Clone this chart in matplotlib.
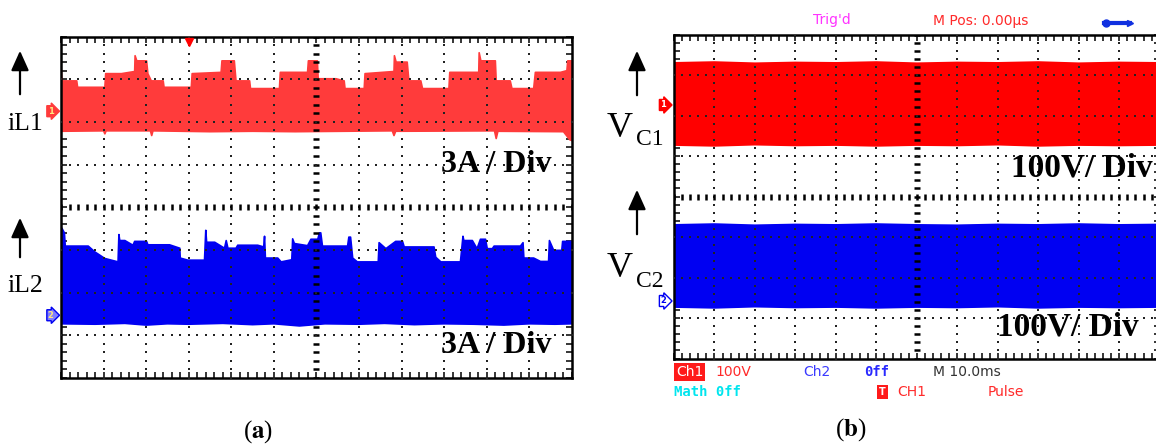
import numpy as np
import matplotlib
matplotlib.use("Agg")
import matplotlib.pyplot as plt
from matplotlib.patches import FancyArrowPatch
from matplotlib.lines import Line2D
from matplotlib.ticker import MultipleLocator
import matplotlib.transforms as mtrans

plt.rcParams['mathtext.fontset'] = 'stix'

W, H = 1156, 445

# ---- (a) inductor currents, screen divisions (12 x 8) ----
iL1_top_t = [0.00, 0.02, 0.37, 0.39, 1.03, 1.05, 1.42, 1.73, 1.74, 1.78, 2.01, 2.04, 2.12, 2.40,
             2.42, 3.06, 3.08, 3.76, 3.78, 4.07, 4.11, 4.43, 4.45, 5.13, 5.15, 5.79, 5.81, 6.02,
             6.04, 6.46, 6.65, 6.67, 7.12, 7.14, 7.82, 7.83, 7.87, 8.13, 8.17, 8.45, 8.49, 9.11,
             9.13, 9.81, 9.82, 9.86, 10.20, 10.22, 10.55, 10.59, 11.10, 11.14, 11.73, 11.88, 11.90, 12.00]
iL1_top_v = [7.31, 6.96, 6.96, 6.81, 6.81, 7.13, 7.13, 7.18, 7.55, 7.43, 7.43, 7.13, 6.96, 6.96,
             6.81, 6.81, 7.13, 7.16, 7.43, 7.43, 6.96, 6.96, 6.78, 6.78, 7.16, 7.16, 7.43, 7.43,
             7.01, 7.01, 6.96, 6.78, 6.78, 7.13, 7.18, 7.55, 7.40, 7.40, 6.96, 6.96, 6.78, 6.78,
             7.16, 7.16, 7.62, 7.43, 7.43, 6.96, 6.96, 6.78, 6.78, 7.16, 7.16, 7.20, 7.43, 7.43]
iL1_bot_t = [0.0, 1.0, 1.03, 1.06, 2.10, 2.13, 2.16, 3.5, 4.5, 5.5, 7.78, 7.82, 7.86,
             10.18, 10.22, 10.26, 11.8, 11.95, 12.0]
iL1_bot_v = [5.78, 5.79, 5.72, 5.79, 5.79, 5.68, 5.79, 5.77, 5.78, 5.77, 5.79, 5.68, 5.78,
             5.79, 5.61, 5.78, 5.77, 5.58, 5.56]

iL2_top_t = [0.00, 0.02, 0.08, 0.10, 0.64, 0.80, 1.03, 1.34, 1.36, 1.38, 1.50, 1.69, 1.73, 2.01,
             2.04, 2.55, 2.79, 2.80, 2.98, 3.37, 3.40, 3.42, 3.61, 3.84, 3.88, 3.92, 4.11, 4.15,
             4.62, 4.76, 4.78, 4.80, 5.09, 5.17, 5.42, 5.44, 5.48, 5.79, 5.87, 6.03, 6.07, 6.10,
             6.14, 6.73, 6.76, 6.80, 6.85, 6.96, 7.45, 7.47, 7.63, 7.86, 8.02, 8.06, 8.76, 8.80,
             8.92, 9.38, 9.44, 9.46, 9.66, 9.77, 9.85, 9.97, 10.01, 10.13, 10.17, 10.79, 10.85,
             10.87, 11.10, 11.26, 11.45, 11.47, 11.57, 11.76, 11.78, 12.00]
iL2_top_v = [3.30, 3.51, 3.40, 3.09, 3.09, 2.95, 2.80, 2.72, 3.36, 3.22, 3.22, 3.11, 3.20, 3.20,
             3.12, 3.12, 3.04, 2.81, 2.76, 2.76, 3.46, 3.18, 3.18, 3.04, 3.22, 3.04, 3.04, 3.11,
             3.11, 3.07, 3.32, 2.81, 2.81, 2.72, 2.77, 3.26, 3.15, 3.10, 3.25, 3.25, 3.40, 3.40,
             3.09, 3.09, 3.30, 3.30, 2.81, 2.72, 2.72, 3.17, 3.03, 3.20, 3.20, 3.07, 3.07, 2.83,
             2.72, 2.72, 3.32, 3.22, 3.22, 3.03, 3.25, 3.25, 3.03, 3.03, 3.09, 3.09, 3.17,
             2.81, 2.81, 2.73, 2.73, 3.22, 2.99, 2.99, 3.20, 3.20]
iL2_bot_t = [0.0, 0.8, 1.5, 2.0, 2.5, 3.0, 3.8, 4.5, 5.0, 5.6, 6.2, 7.0, 7.6, 8.3, 9.0, 9.7,
             10.4, 11.0, 11.6, 12.0]
iL2_bot_v = [1.27, 1.26, 1.28, 1.24, 1.27, 1.26, 1.28, 1.25, 1.27, 1.22, 1.27, 1.26, 1.28,
             1.25, 1.27, 1.26, 1.24, 1.27, 1.26, 1.27]

# ---- (b) capacitor voltages ----
vc_t = [0, 1, 2, 3, 4, 5, 6, 7, 8, 9, 10, 11, 12]
vc1_top = [7.30, 7.32, 7.29, 7.31, 7.30, 7.32, 7.29, 7.31, 7.30, 7.32, 7.29, 7.31, 7.30]
vc1_bot = [5.27, 5.25, 5.28, 5.26, 5.27, 5.25, 5.27, 5.26, 5.28, 5.25, 5.27, 5.26, 5.27]
vc2_top = [3.30, 3.32, 3.29, 3.31, 3.30, 3.32, 3.30, 3.29, 3.31, 3.30, 3.32, 3.30, 3.31]
vc2_bot = [1.27, 1.25, 1.28, 1.26, 1.27, 1.25, 1.27, 1.26, 1.28, 1.25, 1.27, 1.26, 1.27]

red_a = '#ff3b3b'
red_b = '#ff0000'
blue = '#0000f2'


def fx(x):
    return x / W


def fy(y):
    return 1 - y / H


def screen(ax):
    ax.set_xlim(0, 12)
    ax.set_ylim(0, 8)
    for s in ax.spines.values():
        s.set_linewidth(1.8)
    ax.xaxis.set_major_locator(MultipleLocator(1))
    ax.yaxis.set_major_locator(MultipleLocator(1))
    ax.xaxis.set_minor_locator(MultipleLocator(0.2))
    ax.yaxis.set_minor_locator(MultipleLocator(0.2))
    ax.tick_params(which='both', direction='in', length=4, width=1.1,
                   top=True, right=True, labelbottom=False, labelleft=False)
    ys = np.arange(0, 8.01, 0.2)
    xs = np.arange(0, 12.01, 0.2)
    for gx in range(1, 12):
        if gx == 6:
            ax.plot(np.full_like(ys, 6), ys, ls='none', marker='_', ms=5, mew=1.8, color='k', zorder=5)
        else:
            ax.plot(np.full_like(ys, gx), ys, ls='none', marker='s', ms=1.7, mew=0, color='#222222', zorder=5)
    for gy in range(1, 8):
        if gy == 4:
            ax.plot(xs, np.full_like(xs, 4), ls='none', marker='|', ms=5, mew=1.8, color='k', zorder=5)
        else:
            ax.plot(xs, np.full_like(xs, gy), ls='none', marker='s', ms=1.7, mew=0, color='#222222', zorder=5)


def band(ax, tt, top, tb, bot, color):
    px = np.r_[tt, tb[::-1]]
    py = np.r_[top, bot[::-1]]
    ax.fill(px, py, color=color, lw=0, zorder=2)
    ax.plot(tt, top, color=color, lw=1.2, zorder=2)
    ax.plot(tb, bot, color=color, lw=1.2, zorder=2)


def chan_marker(ax, y, label, fc, ec, tc, xoff):
    tr = mtrans.blended_transform_factory(ax.transAxes, ax.transData)
    ax.text(xoff, y, label, transform=tr, ha='center', va='center', fontsize=6,
            color=tc, fontweight='bold', clip_on=False, zorder=6,
            bbox=dict(boxstyle='rarrow,pad=0.12', fc=fc, ec=ec, lw=1))


fig = plt.figure(figsize=(W / 100, H / 100), dpi=100)

# ---------------- panel (a) ----------------
axa = fig.add_axes([fx(61), fy(378), (572 - 61) / W, (378 - 36.5) / H])
screen(axa)
band(axa, np.array(iL1_top_t), np.array(iL1_top_v), np.array(iL1_bot_t), np.array(iL1_bot_v), red_a)
band(axa, np.array(iL2_top_t), np.array(iL2_top_v), np.array(iL2_bot_t), np.array(iL2_bot_v), blue)
axa.plot([3.0], [7.88], marker='v', ms=6, color=red_b, clip_on=False, zorder=6)
chan_marker(axa, 6.25, '1', red_a, red_a, '#ffe680', -0.020)
chan_marker(axa, 1.47, '2', '#7f7fff', blue, '#ffe680', -0.020)
axa.text(10.23, 5.0, '3A / Div', ha='center', va='center', fontsize=23,
         fontweight='bold', family='Liberation Serif', zorder=7)
axa.text(10.23, 0.77, '3A / Div', ha='center', va='center', fontsize=23,
         fontweight='bold', family='Liberation Serif', zorder=7)

# ---------------- panel (b) ----------------
axb = fig.add_axes([fx(674), fy(358.5), (1159.7 - 674) / W, (358.5 - 34.5) / H])
screen(axb)
band(axb, np.array(vc_t), np.array(vc1_top), np.array(vc_t), np.array(vc1_bot), red_b)
band(axb, np.array(vc_t), np.array(vc2_top), np.array(vc_t), np.array(vc2_bot), blue)
chan_marker(axb, 6.26, '1', red_b, red_b, 'white', -0.022)
chan_marker(axb, 1.42, '2', 'white', blue, blue, -0.022)
axb.text(10.07, 4.70, '100V/ Div', ha='center', va='center', fontsize=24,
         fontweight='bold', family='Liberation Serif', zorder=7)
axb.text(9.73, 0.78, '100V/ Div', ha='center', va='center', fontsize=24,
         fontweight='bold', family='Liberation Serif', zorder=7)

# ---------------- outside labels ----------------
for x0, y0, y1 in [(20, 97, 48), (20, 260, 215), (637, 98, 48), (637, 237, 187)]:
    fig.add_artist(FancyArrowPatch((fx(x0), fy(y0)), (fx(x0), fy(y1)), transform=fig.transFigure,
                                   arrowstyle='-|>,head_length=0.6,head_width=0.27',
                                   mutation_scale=20, lw=1.6, color='k'))

fig.text(fx(8), fy(130), 'iL1', fontsize=18.5, family='Liberation Serif', va='baseline', ha='left')
fig.text(fx(8), fy(292), 'iL2', fontsize=18.5, family='Liberation Serif', va='baseline', ha='left')
fig.text(fx(607), fy(137), 'V', fontsize=26, family='Liberation Serif', va='baseline', ha='left')
fig.text(fx(636), fy(145), 'C1', fontsize=17, family='Liberation Serif', va='baseline', ha='left')
fig.text(fx(607), fy(277), 'V', fontsize=26, family='Liberation Serif', va='baseline', ha='left')
fig.text(fx(636), fy(287), 'C2', fontsize=17, family='Liberation Serif', va='baseline', ha='left')

# scope status text
fig.text(fx(813), fy(20), "Trig'd", fontsize=10, color='#ff33ff', va='center', ha='left')
fig.text(fx(933), fy(21), 'M Pos: 0.00\u00b5s', fontsize=10, color='#ff2a2a', va='center', ha='left')
fig.add_artist(Line2D([fx(1104), fx(1130)], [fy(23), fy(23)], transform=fig.transFigure,
                      color='#1030e0', lw=3, marker='>', markevery=[1], ms=5))
fig.add_artist(Line2D([fx(1106)], [fy(23)], transform=fig.transFigure,
                      color='#1030e0', marker='o', ms=5))

fig.text(fx(676), fy(372), 'Ch1', fontsize=10, color='white', va='center', ha='left',
         bbox=dict(boxstyle='square,pad=0.12', fc='#ff1a1a', ec='none'))
fig.text(fx(715), fy(372), '100V', fontsize=10, color='#ff2a2a', va='center', ha='left')
fig.text(fx(803), fy(372), 'Ch2', fontsize=10, color='#3a3aff', va='center', ha='left')
fig.text(fx(864), fy(372), '0ff', fontsize=10, color='#2a2aff', va='center', ha='left',
         family='DejaVu Sans Mono', fontweight='bold')
fig.text(fx(933), fy(372), 'M 10.0ms', fontsize=10, color='#333333', va='center', ha='left')
fig.text(fx(674), fy(392), 'Math 0ff', fontsize=10, color='#00e5ee', va='center', ha='left',
         family='DejaVu Sans Mono', fontweight='bold')
fig.text(fx(879), fy(392), 'T', fontsize=7, color='white', va='center', ha='left', fontweight='bold',
         bbox=dict(boxstyle='square,pad=0.25', fc='#ff1a1a', ec='none'))
fig.text(fx(897), fy(392), 'CH1', fontsize=10, color='#ff2a2a', va='center', ha='left')
fig.text(fx(988), fy(392), 'Pulse', fontsize=10, color='#ff2a2a', va='center', ha='left')

# panel captions
fig.text(fx(258), fy(432), r'($\mathbf{a}$)', fontsize=18, family='Liberation Serif',
         ha='center', va='center')
fig.text(fx(851), fy(430), r'($\mathbf{b}$)', fontsize=18, family='Liberation Serif',
         ha='center', va='center')

fig.savefig('out.png', dpi=100)
